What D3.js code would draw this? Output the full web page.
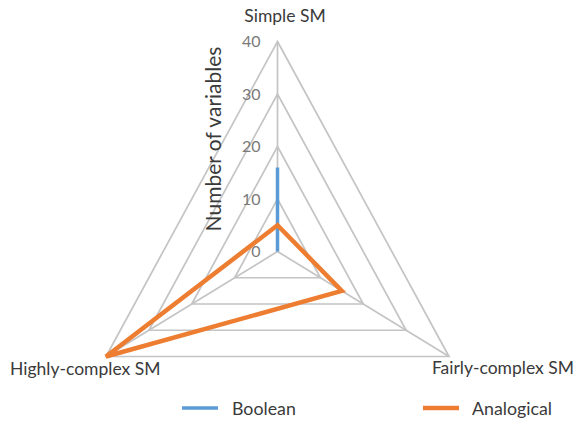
<!DOCTYPE html>
<html>
<head>
<meta charset="utf-8">
<script src="https://cdn.jsdelivr.net/npm/d3@7"></script>
<style>
  html, body { margin: 0; padding: 0; background: #fff; }
  svg { display: block; font-family: Lato, "Open Sans", sans-serif; }
</style>
</head>
<body>
<svg id="chart" width="578" height="422"></svg>
<script>
// Radar axes, clockwise from the top
const categories = ["Simple SM", "Fairly-complex SM", "Highly-complex SM"];
const booleanValues = [16, 0, 0];
const analogicalValues = [5, 15, 40];
const tickValues = [0, 10, 20, 30, 40];
const seriesNames = ["Boolean", "Analogical"];

const svg = d3.select("#chart");
const cx = 277.5, cy = 251.5;
const kx = 0.943; // horizontal squeeze of the plot area

const r = d3.scaleLinear().domain([0, 40]).range([0, 210]);
const angle = d3.scalePoint().domain(categories).range([0, 240]);

function pt(cat, v) {
  const a = angle(cat) * Math.PI / 180;
  return [cx + r(v) * Math.sin(a) * kx, cy - r(v) * Math.cos(a)];
}

const grid = svg.append("g");
// level polygons
tickValues.filter(t => t > 0).forEach(t => {
  grid.append("path")
    .attr("d", d3.line()(categories.map(c => pt(c, t))) + "Z")
    .attr("fill", "none")
    .attr("stroke", "#c4c4c4")
    .attr("stroke-width", 1.7);
});
// spokes
categories.forEach(c => {
  const p = pt(c, 40);
  grid.append("line")
    .attr("x1", cx).attr("y1", cy).attr("x2", p[0]).attr("y2", p[1])
    .attr("stroke", "#c4c4c4").attr("stroke-width", 1.7);
});

// tick labels along the first axis
svg.append("g").selectAll("text").data(tickValues).join("text")
  .attr("x", d => pt(categories[0], d)[0] - 17)
  .attr("y", d => pt(categories[0], d)[1] + 5.5)
  .attr("text-anchor", "end")
  .attr("font-size", 16)
  .attr("fill", "#7a7a7a")
  .text(d => d);

// axis title
svg.append("text")
  .attr("transform", `translate(221,139) rotate(-90)`)
  .attr("text-anchor", "middle")
  .attr("font-size", 21)
  .attr("fill", "#3a3a3a")
  .text("Number of variables");

// series
const series = [
  { name: seriesNames[0], values: booleanValues, color: "#5b9bd5", width: 3.5 },
  { name: seriesNames[1], values: analogicalValues, color: "#ed7d31", width: 4.5 }
];
series.forEach(s => {
  svg.append("path")
    .attr("d", d3.line()(categories.map((c, i) => pt(c, s.values[i]))) + "Z")
    .attr("fill", "none")
    .attr("stroke", s.color)
    .attr("stroke-width", s.width)
    .attr("stroke-linejoin", "miter");
});

// category labels
const catLabels = [
  { x: 285, y: 22, anchor: "middle" },
  { x: 574, y: 374, anchor: "end" },
  { x: 10, y: 375, anchor: "start" }
];
categories.forEach((c, i) => {
  svg.append("text")
    .attr("x", catLabels[i].x).attr("y", catLabels[i].y)
    .attr("text-anchor", catLabels[i].anchor)
    .attr("font-size", 17.5)
    .attr("fill", "#3a3a3a")
    .text(c);
});

// legend
const legendPos = [{ x: 182, tx: 232 }, { x: 423, tx: 472 }];
series.forEach((s, i) => {
  const lp = legendPos[i];
  svg.append("line")
    .attr("x1", lp.x).attr("x2", lp.x + 36)
    .attr("y1", 408).attr("y2", 408)
    .attr("stroke", s.color).attr("stroke-width", s.width);
  svg.append("text")
    .attr("x", lp.tx).attr("y", 415)
    .attr("font-size", 17.8)
    .attr("fill", "#3a3a3a")
    .text(s.name);
});
</script>
</body>
</html>
